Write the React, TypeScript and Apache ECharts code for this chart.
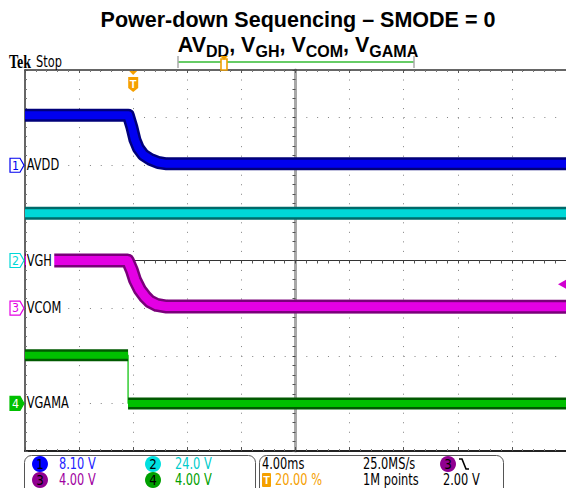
import { useEffect, useRef } from "react";
import * as echarts from "echarts";

// ---- data ----
const timeMin = -8; // ms (trigger at 20 %)
const timeMax = 32; // ms
const channelNames = ["AVDD", "VGH", "VCOM", "VGAMA"];
const channelScales = [8.1, 24.0, 4.0, 4.0]; // V/div
const channelGroundDiv = [6, 4, 3, 1]; // divisions above graticule bottom
const channelColors = ["#0000f0", "#00d8d8", "#e400e4", "#00c000"];
const channelDark = ["#00007a", "#006a6a", "#7a007a", "#005a00"];
const statusColors = ["#2222ff", "#00cccc", "#a000a0", "#00a000"];
const badgeColors = ["#0000ff", "#00e0e0", "#900090", "#00a000"];
const scaleLabels = ["8.10 V", "24.0 V", "4.00 V", "4.00 V"];

const avddT = [-8, -0.36, -0.11, 0.13, 0.38, 0.75, 1.24, 1.85, 2.48, 32];
const avddV = [8.5, 8.5, 6.58, 4.32, 2.91, 1.77, 1.04, 0.46, 0.24, 0.24];
const vghT = [-8, 32];
const vghV = [23.8, 23.8];
const vcomT = [-8, -0.41, -0.11, 0.13, 0.5, 0.87, 1.24, 1.74, 2.48, 32];
const vcomV = [4.0, 4.0, 3.21, 2.37, 1.53, 0.97, 0.55, 0.27, 0.13, 0.12];
const vgamaT = [-8, -0.38, -0.38, 32];
const vgamaV = [4.05, 4.05, 0, 0];

const titleLine1 = "Power-down Sequencing \u2013 SMODE = 0";
const subtitleParts = [["AV", "DD"], [", V", "GH"], [", V", "COM"], [", V", "GAMA"]];
const timeDivLabel = "4.00ms";
const sampleRateLabel = "25.0MS/s";
const triggerPosLabel = "20.00 %";
const recordLabel = "1M points";
const triggerLevel = 2.0;
const triggerLevelLabel = "2.00 V";

const traces = [
  { t: avddT, v: avddV },
  { t: vghT, v: vghV },
  { t: vcomT, v: vcomV },
  { t: vgamaT, v: vgamaV },
];
const bandWidths = [13, 13, 14, 12];

const SANS = "'Liberation Sans',Arial,sans-serif";
const SCOPE = "'DejaVu Sans',Verdana,sans-serif";
const COND = 0.76; // horizontal squeeze for scope-style condensed text

const G = { left: 25, top: 70, width: 541, height: 381 };

function toPts(T: number[], V: number[]) {
  return T.map((t, i) => [t, V[i]]);
}
function withGaps(pts: any[]) {
  const out: any[] = [];
  pts.forEach((p, i) => {
    if (i > 0 && p[0] === pts[i - 1][0]) out.push([p[0], "-"]);
    out.push(p);
  });
  return out;
}

function buildOption() {
  const series: any[] = [];
  traces.forEach((tr, ch) => {
    const pts = toPts(tr.t, tr.v);
    const base = {
      type: "line",
      xAxisIndex: 3,
      yAxisIndex: 2 + ch,
      symbol: "none",
      silent: true,
      clip: true,
      connectNulls: false,
    };
    series.push({ ...base, data: pts, lineStyle: { color: channelColors[ch], width: 1.2 } });
    series.push({ ...base, data: withGaps(pts), lineStyle: { color: channelDark[ch], width: bandWidths[ch], join: "round" } });
    series.push({ ...base, data: withGaps(pts), lineStyle: { color: channelColors[ch], width: bandWidths[ch] - 5, join: "round" } });
  });

  const noLabel = { show: false };
  return {
    animation: false,
    backgroundColor: "#ffffff",
    grid: [
      { ...G, containLabel: false },
      { ...G, containLabel: false },
      { ...G, containLabel: false },
    ],
    xAxis: [
      {
        type: "value", gridIndex: 0, min: -5, max: 5, interval: 1, position: "bottom",
        axisLabel: noLabel,
        axisLine: { show: true, onZero: false, lineStyle: { color: "#222", width: 2 } },
        axisTick: { show: true, inside: true, length: 4, lineStyle: { color: "#555" } },
        minorTick: { show: true, splitNumber: 5, length: 2, lineStyle: { color: "#777" } },
        splitLine: { show: true, lineStyle: { color: "#808080", width: 1, type: [1, 8.52] } },
      },
      {
        type: "value", gridIndex: 0, min: -5, max: 5, interval: 1, position: "top",
        axisLabel: noLabel,
        axisLine: { show: true, onZero: false, lineStyle: { color: "#333", width: 1.5 } },
        axisTick: { show: true, inside: true, length: 3, lineStyle: { color: "#555" } },
        minorTick: { show: true, splitNumber: 5, length: 2, lineStyle: { color: "#777" } },
        splitLine: { show: false },
      },
      {
        type: "value", gridIndex: 1, min: -5, max: 5, interval: 1, position: "bottom",
        axisLabel: noLabel,
        axisLine: { show: true, onZero: true, onZeroAxisIndex: 1, lineStyle: { color: "#333", width: 1 } },
        axisTick: { show: true, inside: false, length: 3, lineStyle: { color: "#444" } },
        minorTick: { show: true, splitNumber: 5, length: 3, lineStyle: { color: "#555" } },
        splitLine: { show: false },
      },
      { type: "value", gridIndex: 2, min: timeMin, max: timeMax, show: false },
    ],
    yAxis: [
      {
        type: "value", gridIndex: 0, min: -4, max: 4, interval: 1, position: "left",
        axisLabel: noLabel,
        axisLine: { show: true, onZero: false, lineStyle: { color: "#333", width: 1.5 } },
        axisTick: { show: true, inside: true, length: 3, lineStyle: { color: "#555" } },
        minorTick: { show: true, splitNumber: 5, length: 2, lineStyle: { color: "#777" } },
        splitLine: { show: true, lineStyle: { color: "#808080", width: 1, type: [1, 9.82] } },
      },
      {
        type: "value", gridIndex: 1, min: -4, max: 4, interval: 1, position: "left",
        axisLabel: noLabel,
        axisLine: { show: true, onZero: true, onZeroAxisIndex: 2, lineStyle: { color: "#a8a8a8", width: 3 } },
        axisTick: { show: true, inside: false, length: 3, lineStyle: { color: "#444" } },
        minorTick: { show: true, splitNumber: 5, length: 3, lineStyle: { color: "#555" } },
        splitLine: { show: false },
      },
      ...channelScales.map((s, i) => ({
        type: "value",
        gridIndex: 2,
        show: false,
        min: -channelGroundDiv[i] * s,
        max: (8 - channelGroundDiv[i]) * s,
      })),
    ],
    series,
  };
}

function measure(text: string, font: string) {
  const c = document.createElement("canvas").getContext("2d");
  if (!c) return text.length * 10;
  c.font = font;
  return c.measureText(text).width;
}

function condText(x: number, y: number, text: string, fill: string, size: number, z: number, extra: any = {}) {
  return {
    type: "text", x, y, z, scaleX: COND,
    style: { text, fill, font: `${size}px ${SCOPE}`, align: "left", verticalAlign: "middle", ...extra },
  };
}

function buildGraphic(chart: any) {
  const el: any[] = [];
  const Z = 100;
  // titles
  el.push({
    type: "text", x: 298, y: 20, z: Z,
    style: { text: titleLine1, fill: "#000", font: `bold 21.5px ${SANS}`, align: "center", verticalAlign: "middle" },
  });
  const mainFont = `bold 21.5px ${SANS}`;
  const subFont = `bold 16px ${SANS}`;
  const widths = subtitleParts.map(([m, s]) => [measure(m, mainFont), measure(s, subFont)]);
  const total = widths.reduce((a, [w1, w2]) => a + w1 + w2, 0);
  let cx = 298 - total / 2;
  subtitleParts.forEach(([m, s], i) => {
    el.push({ type: "text", x: cx, y: 45, z: Z, style: { text: m, fill: "#000", font: mainFont, align: "left", verticalAlign: "middle" } });
    cx += widths[i][0];
    el.push({ type: "text", x: cx, y: 51, z: Z, style: { text: s, fill: "#000", font: subFont, align: "left", verticalAlign: "middle" } });
    cx += widths[i][1];
  });
  // Tek Stop
  el.push({ type: "text", x: 9, y: 62, z: Z, scaleX: 0.78, style: { text: "Tek", fill: "#000", font: `bold 18px 'Liberation Serif',serif`, verticalAlign: "middle" } });
  el.push(condText(36, 62, "Stop", "#000", 15, Z));
  // record view bar
  el.push({ type: "line", z: Z, shape: { x1: 178, y1: 62, x2: 414, y2: 62 }, style: { stroke: "#66cc66", lineWidth: 2 } });
  el.push({ type: "line", z: Z, shape: { x1: 178, y1: 56, x2: 178, y2: 68 }, style: { stroke: "#aaa", lineWidth: 1.5 } });
  el.push({ type: "line", z: Z, shape: { x1: 414, y1: 56, x2: 414, y2: 68 }, style: { stroke: "#aaa", lineWidth: 1.5 } });
  el.push({ type: "rect", z: Z, shape: { x: 221, y: 59, width: 6, height: 11 }, style: { fill: "#fff", stroke: "#f0a000", lineWidth: 1.6 } });
  el.push({ type: "polygon", z: Z, shape: { points: [[220, 56], [228, 56], [224, 60]] }, style: { fill: "#f0a000" } });

  // trigger position marker
  const xT = chart.convertToPixel({ xAxisIndex: 3 }, 0);
  el.push({ type: "polygon", z: Z, shape: { points: [[xT - 4, 71], [xT + 4, 71], [xT, 75]] }, style: { fill: "#f5a000" } });
  el.push({
    type: "polygon", z: Z,
    shape: { points: [[xT - 5, 77], [xT + 5, 77], [xT + 5, 88], [xT, 92], [xT - 5, 88]] },
    style: { fill: "#f5a000" },
  });
  el.push({ type: "text", x: xT, y: 83.5, z: Z, style: { text: "T", fill: "#fff", font: `bold 11px ${SANS}`, align: "center", verticalAlign: "middle" } });

  // channel markers and labels
  channelNames.forEach((name, i) => {
    const y = chart.convertToPixel({ yAxisIndex: 2 + i }, 0);
    const filled = i === 3;
    el.push({
      type: "polygon", z: Z,
      shape: { points: [[10, y - 7], [20, y - 7], [24, y], [20, y + 7], [10, y + 7]] },
      style: { fill: filled ? channelColors[i] : "#fff", stroke: channelColors[i], lineWidth: 1.2 },
    });
    el.push({
      type: "text", x: 15.5, y: y, z: Z + 1, scaleX: 0.85,
      style: { text: String(i + 1), fill: filled ? "#fff" : channelColors[i], font: `13px ${SCOPE}`, align: "center", verticalAlign: "middle" },
    });
    el.push(condText(26, y, name, "#000", 15, Z, { backgroundColor: "#fff", padding: [1, 3, 1, 1] }));
  });

  // trigger level arrow (ch3)
  const yL = chart.convertToPixel({ yAxisIndex: 4 }, triggerLevel);
  el.push({ type: "polygon", z: Z, shape: { points: [[566, yL - 4.5], [566, yL + 4.5], [558, yL]] }, style: { fill: "#d000d0" } });

  // status boxes
  el.push({ type: "rect", z: Z, shape: { x: 24.5, y: 455.5, width: 231, height: 45, r: 7 }, style: { fill: "#fff", stroke: "#555", lineWidth: 1 } });
  el.push({ type: "rect", z: Z, shape: { x: 259.5, y: 455.5, width: 244, height: 45, r: 7 }, style: { fill: "#fff", stroke: "#555", lineWidth: 1 } });
  const rowY = [464, 480];
  const badgePos = [[40, rowY[0]], [153, rowY[0]], [40, rowY[1]], [153, rowY[1]]];
  const textPos = [[59, rowY[0]], [175, rowY[0]], [59, rowY[1]], [175, rowY[1]]];
  scaleLabels.forEach((lab, i) => {
    el.push({ type: "circle", z: Z + 1, shape: { cx: badgePos[i][0], cy: badgePos[i][1], r: 8 }, style: { fill: badgeColors[i] } });
    el.push({ type: "text", z: Z + 2, x: badgePos[i][0], y: badgePos[i][1], scaleX: 0.85, style: { text: String(i + 1), fill: "#000", font: `14px ${SCOPE}`, align: "center", verticalAlign: "middle" } });
    el.push(condText(textPos[i][0], textPos[i][1], lab, statusColors[i], 15, Z + 1));
  });
  el.push(condText(262, rowY[0], timeDivLabel, "#000", 15, Z + 1));
  el.push(condText(363, rowY[0], sampleRateLabel, "#000", 15, Z + 1));
  el.push({ type: "circle", z: Z + 1, shape: { cx: 448, cy: rowY[0], r: 8 }, style: { fill: badgeColors[2] } });
  el.push({ type: "text", z: Z + 2, x: 448, y: rowY[0], scaleX: 0.85, style: { text: "3", fill: "#000", font: `14px ${SCOPE}`, align: "center", verticalAlign: "middle" } });
  el.push({ type: "polyline", z: Z + 1, shape: { points: [[459, rowY[0] - 5], [462, rowY[0] - 5], [466, rowY[0] + 5], [469, rowY[0] + 5]] }, style: { stroke: "#000", lineWidth: 1.6, fill: null } });
  el.push({ type: "rect", z: Z + 1, shape: { x: 262, y: rowY[1] - 7, width: 9, height: 14, r: 1 }, style: { fill: "#f5a000" } });
  el.push({ type: "text", z: Z + 2, x: 266.5, y: rowY[1], style: { text: "T", fill: "#fff", font: `bold 11px ${SANS}`, align: "center", verticalAlign: "middle" } });
  el.push(condText(275, rowY[1], triggerPosLabel, "#f5a000", 15, Z + 1));
  el.push(condText(363, rowY[1], recordLabel, "#000", 15, Z + 1));
  el.push(condText(443, rowY[1], triggerLevelLabel, "#000", 15, Z + 1));
  return el;
}

export default function App() {
  const ref = useRef<HTMLDivElement>(null);
  useEffect(() => {
    const chart = echarts.init(ref.current!, null, { renderer: "svg" });
    chart.setOption(buildOption() as any);
    chart.setOption({ graphic: buildGraphic(chart) } as any);
    return () => chart.dispose();
  }, []);
  return (
    <div
      ref={ref}
      style={{ position: "absolute", left: 0, top: 0, width: 566, height: 488, background: "#fff" }}
    />
  );
}
